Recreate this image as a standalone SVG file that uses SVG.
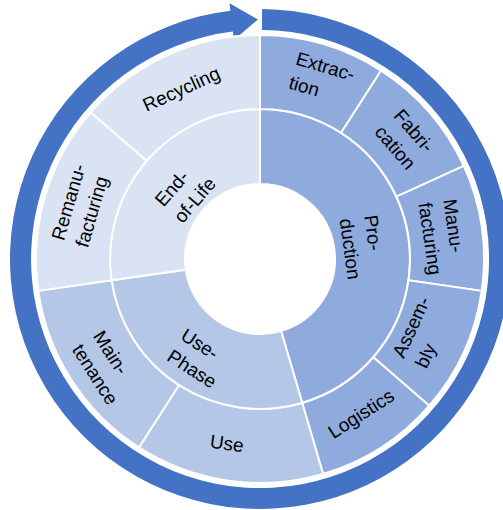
<svg xmlns="http://www.w3.org/2000/svg" width="503" height="510" viewBox="0 0 503 510">
<style>
.seg{stroke:#ffffff;stroke-width:2;stroke-linejoin:round}
.prod{fill:#8faadc}
.use{fill:#b4c7e7}
.eol{fill:#dae3f3}
.lbl{font-family:"Liberation Sans",Arial,sans-serif;font-size:19px;fill:#000000}
.arrow{fill:#4472c4}
</style>
<rect x="0" y="0" width="503" height="510" fill="#ffffff"/>
<g id="connectors">
<path class="arrow" d="M262.09,9.01 A250,250 0 1,1 230.4,10.76 L229.51,3.31 L257.91,19.5 L233.89,40.05 L232.89,31.61 A229,229 0 1,0 261.92,30.0 Z"/>
</g>
<g id="production">
<path class="seg prod" d="M260,109 A150,150 0 0,1 302.26,402.92 L281.13,330.96 A75,75 0 0,0 260,184 Z"/>
<text class="lbl" transform="translate(363,247) rotate(81.82)"><tspan x="-30.6" y="-5.55">Pro-</tspan><tspan x="-30.6" y="19.45">duction</tspan></text>
</g>
<g id="use-phase">
<path class="seg use" d="M302.26,402.92 A150,150 0 0,1 111.53,280.35 L185.76,269.67 A75,75 0 0,0 281.13,330.96 Z"/>
<text class="lbl" transform="translate(199,358) rotate(32.73)"><tspan x="-26.9" y="-5.55">Use-</tspan><tspan x="-26.9" y="19.45">Phase</tspan></text>
</g>
<g id="end-of-life">
<path class="seg eol" d="M111.53,280.35 A150,150 0 0,1 260,109 L260,184 A75,75 0 0,0 185.76,269.67 Z"/>
<text class="lbl" transform="translate(185,191.5) rotate(-49.09)"><tspan x="-26.4" y="-5.55">End-</tspan><tspan x="-26.4" y="19.45">of-Life</tspan></text>
</g>
<g id="extraction">
<path class="seg prod" d="M260,35 A224,224 0 0,1 381.10,70.56 L341.10,132.81 A150,150 0 0,0 260,109 Z"/>
<text class="lbl" transform="translate(322,78) rotate(16.36)"><tspan x="-30.1" y="-5.55">Extrac-</tspan><tspan x="-30.1" y="19.45">tion</tspan></text>
</g>
<g id="fabrication">
<path class="seg prod" d="M381.10,70.56 A224,224 0 0,1 463.76,165.95 L396.44,196.69 A150,150 0 0,0 341.10,132.81 Z"/>
<text class="lbl" transform="translate(405,139) rotate(49.09)"><tspan x="-25.3" y="-5.55">Fabri-</tspan><tspan x="-25.3" y="19.45">cation</tspan></text>
</g>
<g id="manufacturing">
<path class="seg prod" d="M463.76,165.95 A224,224 0 0,1 481.72,290.88 L408.47,280.35 A150,150 0 0,0 396.44,196.69 Z"/>
<text class="lbl" transform="translate(441,237) rotate(81.82)"><tspan x="-36.4" y="-7.55">Manu-</tspan><tspan x="-36.4" y="17.45">facturing</tspan></text>
</g>
<g id="assembly">
<path class="seg prod" d="M481.72,290.88 A224,224 0 0,1 429.29,405.69 L373.36,357.23 A150,150 0 0,0 408.47,280.35 Z"/>
<text class="lbl" transform="translate(424,333) rotate(-65.45)"><tspan x="-32.2" y="-7.55">Assem-</tspan><tspan x="-32.2" y="17.45">bly</tspan></text>
</g>
<g id="logistics">
<path class="seg prod" d="M429.29,405.69 A224,224 0 0,1 323.11,473.93 L302.26,402.92 A150,150 0 0,0 373.36,357.23 Z"/>
<text class="lbl" text-anchor="middle" transform="translate(362,415) rotate(-32.73)"><tspan x="0" y="4.95">Logistics</tspan></text>
</g>
<g id="use">
<path class="seg use" d="M323.11,473.93 A224,224 0 0,1 138.90,447.44 L178.90,385.19 A150,150 0 0,0 302.26,402.92 Z"/>
<text class="lbl" text-anchor="middle" transform="translate(227,443) rotate(8.18)"><tspan x="0" y="6.95">Use</tspan></text>
</g>
<g id="maintenance">
<path class="seg use" d="M138.90,447.44 A224,224 0 0,1 38.28,290.88 L111.53,280.35 A150,150 0 0,0 178.90,385.19 Z"/>
<text class="lbl" transform="translate(106,367.5) rotate(57.27)"><tspan x="-33.8" y="-5.55">Main-</tspan><tspan x="-33.8" y="19.45">tenance</tspan></text>
</g>
<g id="remanufacturing">
<path class="seg eol" d="M38.28,290.88 A224,224 0 0,1 90.71,112.31 L146.64,160.77 A150,150 0 0,0 111.53,280.35 Z"/>
<text class="lbl" transform="translate(82,206) rotate(-73.64)"><tspan x="-39.1" y="-7.55">Remanu-</tspan><tspan x="-39.1" y="17.45">facturing</tspan></text>
</g>
<g id="recycling">
<path class="seg eol" d="M90.71,112.31 A224,224 0 0,1 260,35 L260,109 A150,150 0 0,0 146.64,160.77 Z"/>
<text class="lbl" text-anchor="middle" transform="translate(182,90.5) rotate(-24.55)"><tspan x="0" y="4.95">Recycling</tspan></text>
</g>
</svg>
